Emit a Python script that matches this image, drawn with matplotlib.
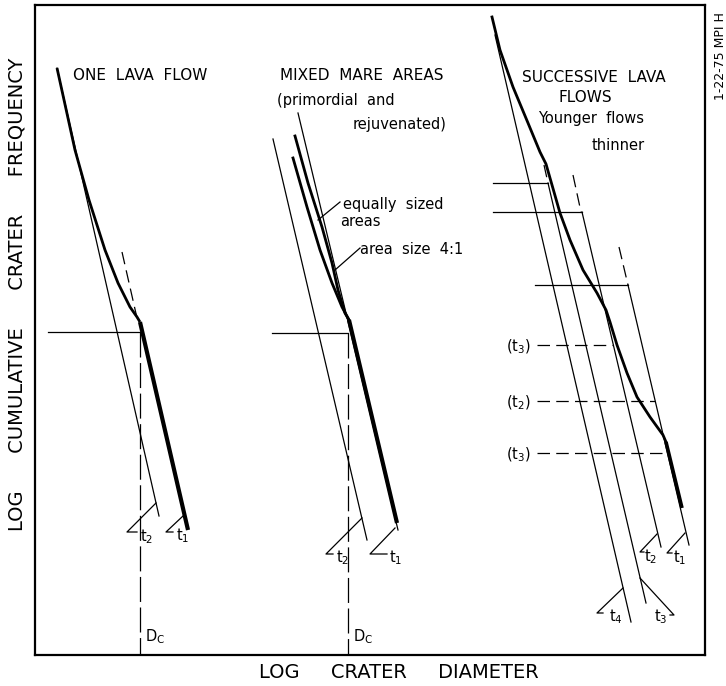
import matplotlib.pyplot as plt

plt.rcParams['font.family'] = ['DejaVu Sans']
plt.rcParams['lines.scale_dashes'] = False

# values, in picture pixel units (x right, y down)
# panel 1: one lava flow
p1_curve_x = [57, 75, 89, 105, 118, 130, 137, 140]
p1_curve_y = [68, 150, 200, 250, 283, 307, 317, 322]
p1_t1_x = [140, 188]
p1_t1_y = [322, 530]
p1_t2_x = [57, 159]
p1_t2_y = [68, 516]
p1_dash_x = [122, 137]
p1_dash_y = [252, 318]
p1_dc = 140
p1_level = 332

# panel 2: mixed mare areas
p2_thinA_x = [273, 367]
p2_thinA_y = [139, 540]
p2_thinB_x = [298, 398]
p2_thinB_y = [113, 530]
p2_t1_x = [349, 397]
p2_t1_y = [320, 523]
p2_equal_x = [295, 308, 322, 332, 338, 345, 349]
p2_equal_y = [136, 183, 227, 263, 290, 313, 320]
p2_ratio_x = [293, 307, 320, 332, 342, 349]
p2_ratio_y = [158, 207, 250, 283, 307, 320]
p2_dc = 348
p2_level = 333

# panel 3: successive lava flows
p3_curve_x = [492, 500, 513, 528, 540, 546, 560, 570, 583, 597, 606, 610,
              617, 627, 637, 650, 663, 666]
p3_curve_y = [17, 50, 87, 123, 152, 164, 213, 240, 270, 293, 310, 322,
              345, 373, 397, 417, 435, 442]
p3_tail_x = [666, 682]
p3_tail_y = [442, 508]
p3_iso_x = {'t4': [495, 631], 't3': [548, 646], 't2': [582, 661], 't1': [628, 689]}
p3_iso_y = {'t4': [35, 622], 't3': [183, 603], 't2': [212, 547], 't1': [285, 545]}
p3_ext_x = [[544, 548], [573, 581], [619, 628]]
p3_ext_y = [[165, 183], [175, 212], [247, 285]]
p3_flow_x0 = [493, 493, 535]
p3_flow_x1 = [548, 582, 628]
p3_flow_y = [183, 212, 285]
p3_old_labels = ['(t$_3$)', '(t$_2$)', '(t$_3$)']
p3_old_x1 = [613, 655, 668]
p3_old_y = [345, 401, 453]

# slope marks: (x on line, y on line, corner x, corner y, end x, label, label x, label y)
marks = [
    (156, 503, 127, 532, 137, 't$_2$', 147, 537),
    (183, 516, 166, 532, 173, 't$_1$', 183, 536),
    (362, 518, 326, 554, 333, 't$_2$', 343, 558),
    (395, 528, 370, 554, 387, 't$_1$', 396, 558),
    (657, 534, 640, 552, 644, 't$_2$', 651, 557),
    (685, 533, 667, 553, 672, 't$_1$', 680, 558),
    (623, 588, 597, 613, 603, 't$_4$', 616, 617),
    (640, 578, 674, 615, 670, 't$_3$', 661, 617),
]

fig = plt.figure(figsize=(7.26, 6.86), dpi=100)
ax = fig.add_axes([35 / 726, 31 / 686, 670 / 726, 650 / 686])
ax.set_xlim(35, 705)
ax.set_ylim(655, 5)
ax.set_xticks([])
ax.set_yticks([])
for s in ax.spines.values():
    s.set_linewidth(1.6)

k = 'black'
thin = 0.9
# panel 1
ax.plot(p1_curve_x, p1_curve_y, color=k, lw=2.0, solid_capstyle='butt')
ax.plot(p1_t1_x, p1_t1_y, color=k, lw=3.0, solid_capstyle='butt')
ax.plot(p1_t2_x, p1_t2_y, color=k, lw=thin)
ax.plot(p1_dash_x, p1_dash_y, color=k, lw=thin, dashes=(9, 4.5))
ax.plot([48, p1_dc], [p1_level, p1_level], color=k, lw=thin)
ax.plot([p1_dc, p1_dc], [p1_level, 655], color=k, lw=thin, dashes=(18, 4))

# panel 2
ax.plot(p2_thinA_x, p2_thinA_y, color=k, lw=thin)
ax.plot(p2_thinB_x, p2_thinB_y, color=k, lw=thin)
ax.plot(p2_equal_x, p2_equal_y, color=k, lw=2.0)
ax.plot(p2_ratio_x, p2_ratio_y, color=k, lw=2.0)
ax.plot(p2_t1_x, p2_t1_y, color=k, lw=3.0, solid_capstyle='butt')
ax.plot([272, p2_dc], [p2_level, p2_level], color=k, lw=thin)
ax.plot([p2_dc, p2_dc], [p2_level, 655], color=k, lw=thin, dashes=(18, 4))
ax.plot([340, 318], [202, 220], color=k, lw=thin)
ax.plot([360, 335], [248, 270], color=k, lw=thin)

# panel 3
ax.plot(p3_curve_x, p3_curve_y, color=k, lw=2.0)
ax.plot(p3_tail_x, p3_tail_y, color=k, lw=2.6, solid_capstyle='butt')
for key in p3_iso_x:
    ax.plot(p3_iso_x[key], p3_iso_y[key], color=k, lw=thin)
for ex, ey in zip(p3_ext_x, p3_ext_y):
    ax.plot(ex, ey, color=k, lw=thin, dashes=(9, 4.5))
for x0, x1, y in zip(p3_flow_x0, p3_flow_x1, p3_flow_y):
    ax.plot([x0, x1], [y, y], color=k, lw=thin)
for lab, x1, y in zip(p3_old_labels, p3_old_x1, p3_old_y):
    ax.plot([537, x1], [y, y], color=k, lw=thin, dashes=(9, 4.5))
    ax.text(518, y + 2, lab, fontsize=10.5, ha='center', va='center')

for lx, ly, cx, cy, ex, lab, tx, ty in marks:
    ax.plot([lx, cx, ex], [ly, cy, cy], color=k, lw=thin)
    ax.text(tx, ty, lab, fontsize=10.5, ha='center', va='center')

ax.text(p1_dc + 5, 637, 'D$_\\mathregular{C}$', fontsize=10.5, ha='left', va='center')
ax.text(p2_dc + 5, 637, 'D$_\\mathregular{C}$', fontsize=10.5, ha='left', va='center')

# titles
fs = 11
ax.text(73, 76, 'ONE  LAVA  FLOW', fontsize=fs, ha='left', va='center')
ax.text(280, 75, 'MIXED  MARE  AREAS', fontsize=fs, ha='left', va='center')
ax.text(277, 100, '(primordial  and', fontsize=10.5, ha='left', va='center')
ax.text(447, 125, 'rejuvenated)', fontsize=10.5, ha='right', va='center')
ax.text(343, 205, 'equally  sized', fontsize=10.5, ha='left', va='center')
ax.text(340, 221, 'areas', fontsize=10.5, ha='left', va='center')
ax.text(360, 250, 'area  size  4:1', fontsize=10.5, ha='left', va='center')
ax.text(594, 78, 'SUCCESSIVE  LAVA', fontsize=fs, ha='center', va='center')
ax.text(585, 98, 'FLOWS', fontsize=fs, ha='center', va='center')
ax.text(591, 118, 'Younger  flows', fontsize=10.5, ha='center', va='center')
ax.text(618, 146, 'thinner', fontsize=10.5, ha='center', va='center')

ax.set_xlabel('LOG     CRATER     DIAMETER', fontsize=14)
ax.xaxis.set_label_coords((399 - 35) / 670, -(673 - 655) / 650)
ax.set_ylabel('LOG      CUMULATIVE      CRATER      FREQUENCY', fontsize=14)
ax.yaxis.set_label_coords(-(35 - 17) / 670, (655 - 294) / 650)
for lbl in (ax.xaxis.label, ax.yaxis.label):
    lbl.set_va('center')
    lbl.set_ha('center')

fig.text(720 / 726, 1 - 56 / 686, '1-22-75 MPI H', fontsize=9, rotation=90,
         ha='center', va='center')

fig.savefig('out.png', dpi=100)
